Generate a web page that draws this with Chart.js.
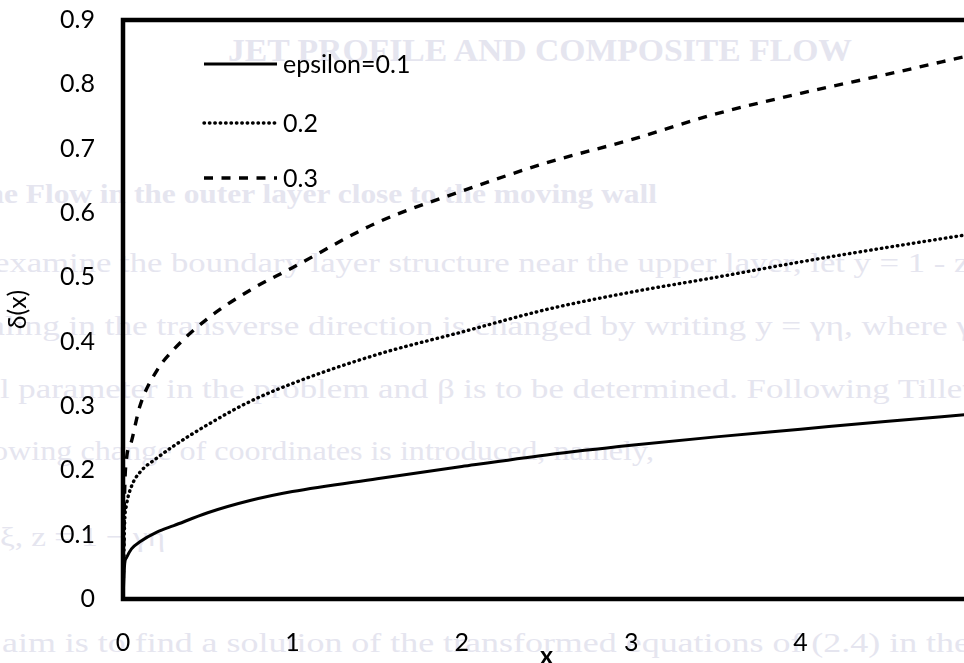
<!DOCTYPE html>
<html>
<head>
<meta charset="utf-8">
<script src="https://cdn.jsdelivr.net/npm/chart.js@4.4.1/dist/chart.umd.min.js"></script>
<style>
    html, body { margin: 0; padding: 0; background: #fff; overflow: hidden; }
    #wrap { position: relative; width: 964px; height: 663px; overflow: hidden; }
    #page { position: absolute; left: 0; top: 0; }
    #page text { fill: #e5e5ef; font-family: "Liberation Serif", "DejaVu Serif", serif; font-size: 28px; }
    #page text.head { font-weight: bold; }
    #chart { position: absolute; left: 0; top: 0; }
</style>
</head>
<body>
<div id="wrap">
    <!-- faint text of the scanned page behind the figure -->
    <svg id="page" width="964" height="663">
        <text class="head" x="228" y="61" textLength="624" lengthAdjust="spacingAndGlyphs" style="font-size:32px">JET PROFILE AND COMPOSITE FLOW</text>
        <text class="head" x="-24" y="203" textLength="681" lengthAdjust="spacingAndGlyphs">the Flow in the outer layer close to the moving wall</text>
        <text x="-6" y="272" textLength="984" lengthAdjust="spacingAndGlyphs">examine the boundary layer structure near the upper layer, let y = 1 - z.</text>
        <text x="-40" y="335" textLength="1012" lengthAdjust="spacingAndGlyphs">scaling in the transverse direction is changed by writing y = γη, where γ</text>
        <text x="0" y="398" textLength="972" lengthAdjust="spacingAndGlyphs">l parameter in the problem and β is to be determined. Following Tillet</text>
        <text x="-8" y="460" textLength="662" lengthAdjust="spacingAndGlyphs">owing change of coordinates is introduced, namely,</text>
        <text x="0" y="546" textLength="165" lengthAdjust="spacingAndGlyphs">ξ,  z = 1 − γη</text>
        <text x="2" y="652" textLength="968" lengthAdjust="spacingAndGlyphs">aim is to find a solution of the transformed equations of (2.4) in the</text>
    </svg>
    <canvas id="chart" width="1000" height="680"></canvas>
</div>
<script>
// values
const xValues = [0, 0.01, 0.02, 0.05, 0.1, 0.2, 0.3, 0.5, 0.75, 1, 1.5, 2, 2.5, 3, 3.5, 4, 4.5, 5];
const eps01 = [0, 0.055, 0.064, 0.078, 0.089, 0.104, 0.114, 0.134, 0.153, 0.167, 0.187, 0.206, 0.224, 0.239, 0.252, 0.264, 0.276, 0.287];
const eps02 = [0, 0.12, 0.145, 0.175, 0.197, 0.219, 0.238, 0.271, 0.307, 0.335, 0.38, 0.415, 0.45, 0.477, 0.5, 0.524, 0.546, 0.567];
const eps03 = [0, 0.17, 0.216, 0.245, 0.3, 0.355, 0.388, 0.436, 0.48, 0.515, 0.585, 0.634, 0.678, 0.714, 0.754, 0.786, 0.815, 0.845];
const seriesLabels = ['epsilon=0.1', '0.2', '0.3'];
const xTicks = [0, 1, 2, 3, 4, 5];
const yTicks = [0, 0.1, 0.2, 0.3, 0.4, 0.5, 0.6, 0.7, 0.8, 0.9];

const FONT = 'Lato, "Open Sans", sans-serif';

const toPoints = (ys) => xValues.map((x, i) => ({ x, y: ys[i] }));

// legend sits inside the plot, top left
const plotLegend = {
    id: 'plotLegend',
    afterDatasetsDraw(chart) {
        const { ctx, chartArea } = chart;
        const rows = [44, 103, 158];
        chart.data.datasets.forEach((ds, i) => {
            const y = chartArea.top + rows[i];
            const x0 = chartArea.left + 81;
            ctx.save();
            ctx.strokeStyle = ds.borderColor;
            ctx.lineWidth = ds.borderWidth;
            ctx.setLineDash(ds.borderDash || []);
            ctx.lineCap = ds.borderCapStyle || 'butt';
            ctx.beginPath();
            ctx.moveTo(x0, y);
            ctx.lineTo(x0 + 73, y);
            ctx.stroke();
            ctx.setLineDash([]);
            ctx.fillStyle = '#000';
            ctx.font = '25px ' + FONT;
            ctx.textBaseline = 'middle';
            ctx.fillText(ds.label, x0 + 79, y + 1);
            ctx.restore();
        });
    }
};

// heavy box around the plot area
const plotFrame = {
    id: 'plotFrame',
    afterDraw(chart) {
        const { ctx, chartArea } = chart;
        ctx.save();
        ctx.strokeStyle = '#000';
        ctx.lineWidth = 4.5;
        ctx.strokeRect(chartArea.left, chartArea.top, chartArea.right - chartArea.left, chartArea.bottom - chartArea.top);
        ctx.restore();
    }
};

// invisible tick marks give the gap between axis and labels
const hiddenGrid = (len) => ({
    display: true,
    drawOnChartArea: false,
    drawTicks: true,
    tickLength: len,
    color: 'rgba(0,0,0,0)',
    tickColor: 'rgba(0,0,0,0)',
});

new Chart(document.getElementById('chart'), {
    type: 'line',
    data: {
        datasets: [
            {
                label: seriesLabels[0],
                data: toPoints(eps01),
                borderColor: '#000',
                borderWidth: 3,
            },
            {
                label: seriesLabels[1],
                data: toPoints(eps02),
                borderColor: '#000',
                borderWidth: 3.4,
                borderDash: [0.5, 4.9],
                borderCapStyle: 'round',
            },
            {
                label: seriesLabels[2],
                data: toPoints(eps03),
                borderColor: '#000',
                borderWidth: 3.4,
                borderDash: [9, 8.5],
            },
        ],
    },
    options: {
        responsive: false,
        animation: false,
        events: [],
        layout: { padding: { top: 20, right: 30, left: 0, bottom: 0 } },
        elements: {
            point: { radius: 0 },
            line: { cubicInterpolationMode: 'monotone' },
        },
        plugins: {
            legend: { display: false },
            tooltip: { enabled: false },
        },
        scales: {
            x: {
                type: 'linear',
                min: 0,
                max: 5,
                afterBuildTicks: (scale) => { scale.ticks = xTicks.map(v => ({ value: v })); },
                afterFit: (scale) => { scale.height = 81; },
                grid: hiddenGrid(29),
                border: { display: false },
                ticks: {
                    padding: 0,
                    color: '#000',
                    font: { family: FONT, size: 25 },
                },
                title: {
                    display: true,
                    text: 'x',
                    color: '#000',
                    font: { family: FONT, size: 25, weight: 'bold' },
                    padding: { top: 0, bottom: 9 },
                },
            },
            y: {
                min: 0,
                max: 0.9,
                afterBuildTicks: (scale) => { scale.ticks = yTicks.map(v => ({ value: v })); },
                afterFit: (scale) => { scale.width = 123; },
                grid: hiddenGrid(28),
                border: { display: false },
                ticks: {
                    padding: 0,
                    color: '#000',
                    font: { family: FONT, size: 25 },
                    callback: (v) => (v === 0 ? '0' : v.toFixed(1)),
                },
                title: {
                    display: true,
                    text: 'δ(x)',
                    color: '#000',
                    font: { family: FONT, size: 25 },
                    padding: { top: 3, bottom: 0 },
                },
            },
        },
    },
    plugins: [plotLegend, plotFrame],
});
</script>
</body>
</html>
